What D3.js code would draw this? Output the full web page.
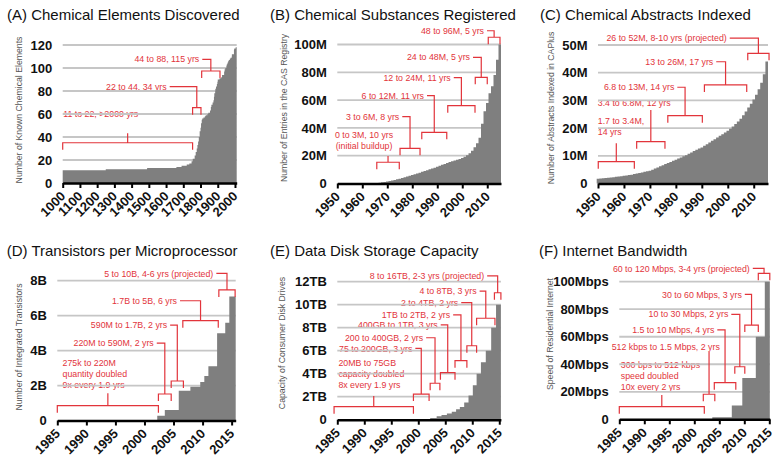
<!DOCTYPE html>
<html><head><meta charset="utf-8">
<script src="https://cdn.jsdelivr.net/npm/d3@7"></script>
<style>body{margin:0;background:#fff}svg{display:block;font-family:"Liberation Sans",Arial,sans-serif}</style>
</head><body><svg id="c" width="779" height="465"></svg>
<script>
// ---------------- DATA ----------------
// (A) elements known: step start years and counts
const elementStepYears = [1000,1250,1490,1660,1690,1720,1735,1748,1755,1766,1772,1778,1782,1786,1790,1795,1800,1803,1807,1810,1817,1825,1830,1840,1845,1855,1860,1863,1870,1875,1878,1880,1885,1886,1890,1895,1898,1900,1910,1920,1925,1937,1940,1944,1950,1952,1955,1958,1961,1964,1970,1974,1981,1982,1994,1996,2004];
const elementCounts    = [11,12,13,14,15,16,17,19,21,24,27,30,33,36,40,45,48,52,55,56,57,58,59,60,61,63,66,68,70,72,75,78,80,82,84,86,88,90,91,92,94,97,99,100,102,103,104,105,106,107,108,109,110,112,116,117,118];
const elementEndYear = 2010;

// (B) CAS registry entries (millions), yearly 1950..2015
const casFirstYear = 1950;
const casRegistryM = [0,0,0,0,0,0,0,0,0,0,0,0,0,0,0,
  0.2,0.4,0.6,0.9,1.1,1.4,1.8,2.2,2.6,3.0,3.5,4.0,4.5,5.0,5.6,
  6.2,6.7,7.2,7.8,8.4,9.0,9.6,10.2,10.8,11.4,12.0,12.7,13.4,14.1,14.8,
  15.4,16.0,16.5,17.0,17.6,18.3,19.2,20.3,21.8,23.5,26,29,33,43,52,
  58,65,70,78,89,100];

// (C) CAplus abstracts (millions), yearly 1950..2015
const capFirstYear = 1950;
const capAbstractsM = [1.7,1.8,1.9,2.0,2.1,2.2,2.3,2.4,2.5,2.6,2.8,2.9,3.1,3.2,3.4,
  3.6,3.8,4.0,4.2,4.4,4.6,5.0,5.4,5.8,6.2,6.6,7.0,7.4,7.8,8.2,
  8.6,9.0,9.4,9.8,10.2,10.7,11.2,11.7,12.2,12.6,13.0,13.6,14.2,14.8,15.4,
  16.0,16.6,17.2,17.8,18.4,19.0,19.8,20.6,21.5,22.4,23.4,24.6,26.0,27.4,28.8,
  30.3,32.0,34.0,36.4,39.4,44.0];

// (D) transistors per microprocessor (billions): step start years, values
const cpuStepYears = [2002.2,2003.5,2005.9,2007.9,2009.6,2010.3,2011.0,2012.5,2013.9,2014.6];
const cpuTransistorsB = [0.27,0.6,1.7,1.93,2.2,2.55,3.1,5.0,5.6,7.1];
const cpuEndYear = 2015.7;

// (E) consumer disk capacity (TB)
const diskStepYears = [2002.2,2003.4,2004.3,2005.3,2006.2,2007.0,2007.7,2008.5,2009.3,2010.1,2010.8,2011.6,2012.5,2013.5,2014.4];
const diskCapacityTB = [0.15,0.3,0.4,0.55,0.7,0.9,1.1,1.5,2.1,3.0,4.0,5.0,6.0,8.0,10.0];
const diskEndYear = 2015.3;

// (F) residential internet speed (Mbps)
const netStepYears = [2003.6,2007.5,2009.6,2012.3,2014.1];
const netSpeedMbps = [1.5,10,30,60,100];
const netEndYear = 2015.1;

// tick values
const ticksA_x = [1000,1100,1200,1300,1400,1500,1600,1700,1800,1900,2000];
const ticksA_y = [0,20,40,60,80,100,120];
const ticksBC_x = [1950,1960,1970,1980,1990,2000,2010];
const ticksB_y = [0,20,40,60,80,100];
const ticksC_y = [0,10,20,30,40,50];
const ticksDEF_x = [1985,1990,1995,2000,2005,2010,2015];
const ticksD_y = [0,2,4,6,8];
const ticksE_y = [0,2,4,6,8,10,12];
const ticksF_y = [0,20,40,60,80,100];

// annotations (data units): text, bracket range, bracket level
const notesA = [
  {lines:["11 to 22, >2000 yrs"], anchor:"start", tx:1003, ty:57.2, x1:1000, x2:1754, by:35.0, stem:43.2},
  {lines:["22 to 44, 34 yrs"], anchor:"end", tx:1603.6, ty:81.0, x1:1754, x2:1802.6, by:65.5},
  {lines:["44 to 88, 115 yrs"], anchor:"end", tx:1792.8, ty:104.8, x1:1806.7, x2:1913, by:97.4}
];
const notesB = [
  {lines:["0 to 3M, 10 yrs","(initial buildup)"], anchor:"middle", tx:1960.7, ty:32.6, x1:1965.8, x2:1974.8, by:15.3, stem:19.8},
  {lines:["3 to 6M, 8 yrs"], anchor:"end", tx:1974.8, ty:45.8, x1:1975.1, x2:1983.1, by:25.3},
  {lines:["6 to 12M, 11 yrs"], anchor:"end", tx:1984.7, ty:60.9, x1:1983.8, x2:1993.8, by:36.8},
  {lines:["12 to 24M, 11 yrs"], anchor:"end", tx:1995.4, ty:73.8, x1:1994.2, x2:2005.1, by:56.0},
  {lines:["24 to 48M, 5 yrs"], anchor:"end", tx:2003.1, ty:88.5, x1:2005.2, x2:2010.0, by:76.4},
  {lines:["48 to 96M, 5 yrs"], anchor:"end", tx:2008.7, ty:107.6, x1:2010.4, x2:2015.1, by:105.2}
];
const notesC = [
  {lines:["1.7 to 3.4M,","14 yrs"], anchor:"start", tx:1949.9, ty:21.5, x1:1950.1, x2:1964.0, by:7.87, stem:14.5},
  {lines:["3.4 to 6.8M, 12 yrs"], anchor:"start", tx:1949.9, ty:27.8, x1:1964.9, x2:1975.8, by:15.1, stem:26.5},
  {lines:["6.8 to 13M, 14 yrs"], anchor:"end", tx:1979.4, ty:33.6, x1:1976.9, x2:1990.2, by:24.5},
  {lines:["13 to 26M, 17 yrs"], anchor:"end", tx:1994.4, ty:42.8, x1:1991.0, x2:2007.3, by:35.6},
  {lines:["26 to 52M, 8-10 yrs (projected)"], anchor:"end", tx:1999.6, ty:51.3, x1:2007.7, x2:2015.9, by:47.0}
];
const notesD = [
  {lines:["275k to 220M","quantity doubled","9x every 1.9 yrs"], anchor:"start", tx:1985.9, ty:3.125, x1:1985, x2:2002.4, by:0.847, stem:1.557},
  {lines:["220M to 590M, 2 yrs"], anchor:"end", tx:2001.6, ty:4.24, x1:2002.4, x2:2004.6, by:1.517},
  {lines:["590M to 1.7B, 2 yrs"], anchor:"end", tx:2003.9, ty:5.28, x1:2004.6, x2:2006.7, by:2.26},
  {lines:["1.7B to 5B, 6 yrs"], anchor:"end", tx:2005.6, ty:6.67, x1:2006.6, x2:2012.7, by:5.71},
  {lines:["5 to 10B, 4-6 yrs (projected)"], anchor:"end", tx:2011.85, ty:8.24, x1:2012.8, x2:2015.6, by:7.47}
];
const notesE = [
  {lines:["20MB to 75GB","capacity doubled","8x every 1.9 yrs"], anchor:"start", tx:1985.2, ty:4.68, x1:1984.4, x2:1999.1, by:1.13, stem:2.06},
  {lines:["75 to 200GB, 3 yrs"], anchor:"end", tx:1998.9, ty:5.93, x1:1999.1, x2:2002.0, by:2.23},
  {lines:["200 to 400GB, 2 yrs"], anchor:"end", tx:2000.9, ty:6.85, x1:2002.2, x2:2004.0, by:3.17},
  {lines:["400GB to 1TB, 3 yrs"], anchor:"end", tx:2003.6, ty:7.96, x1:2004.1, x2:2006.8, by:4.09},
  {lines:["1TB to 2TB, 2 yrs"], anchor:"end", tx:2005.9, ty:8.83, x1:2006.8, x2:2009.0, by:5.13},
  {lines:["2 to 4TB, 2 yrs"], anchor:"end", tx:2007.4, ty:9.9, x1:2009.0, x2:2010.8, by:6.43},
  {lines:["4 to 8TB, 3 yrs"], anchor:"end", tx:2010.8, ty:10.91, x1:2010.8, x2:2014.2, by:8.82},
  {lines:["8 to 16TB, 2-3 yrs (projected)"], anchor:"end", tx:2012.2, ty:12.22, x1:2014.1, x2:2015.3, by:11.04}
];
const notesF = [
  {lines:["300 bps to 512 kbps","speed doubled","10x every 2 yrs"], anchor:"start", tx:1985.3, ty:37.6, x1:1985, x2:2002, by:9.16, stem:17.7},
  {lines:["512 kbps to 1.5 Mbps, 2 yrs"], anchor:"end", tx:2005.1, ty:50.4, x1:2001.8, x2:2004.1, by:18.2, stem:48.9},
  {lines:["1.5 to 10 Mbps, 4 yrs"], anchor:"end", tx:2004.0, ty:62.6, x1:2004, x2:2008.3, by:26.6},
  {lines:["10 to 30 Mbps, 2 yrs"], anchor:"end", tx:2006.8, ty:74.0, x1:2008.1, x2:2010.1, by:38.2},
  {lines:["30 to 60 Mbps, 3 yrs"], anchor:"end", tx:2009.5, ty:88.5, x1:2010.1, x2:2012.8, by:68.5},
  {lines:["60 to 120 Mbps, 3-4 yrs (projected)"], anchor:"end", tx:2011.1, ty:107.4, x1:2012.8, x2:2015.1, by:106.1}
];

// ---------------- HELPERS ----------------
function stepPoints(years, vals, endYear){
  const pts = years.map((yr,i)=>[yr, vals[i]]);
  pts.push([endYear, vals[vals.length-1]]);
  return pts;
}
function yearlyPoints(first, vals){
  const pts = vals.map((v,i)=>[first+i-0.5, v]);
  pts.push([first+vals.length-0.5, vals[vals.length-1]]);
  return pts;
}

const RED = "#e2343b", GRAY = "#7f7f7f", GRID = "#c6c6c6";
const svg = d3.select("#c");

function drawPanel(p){
  const x = d3.scaleLinear().domain(p.xDomain).range(p.xRange);
  const y = d3.scaleLinear().domain(p.yDomain).range(p.yRange);
  const g = svg.append("g");

  g.append("text").attr("x", p.titlePos[0]).attr("y", p.titlePos[1])
    .attr("font-size", 15).attr("fill", "#111").text(p.title);

  g.append("text").attr("transform", `translate(${p.yTitlePos[0]},${p.yTitlePos[1]}) rotate(-90)`)
    .attr("text-anchor", "middle").attr("font-size", 8.7).attr("fill", "#555").text(p.yTitle);

  // annotation texts (under gridlines)
  p.notes.forEach(n=>{
    const tx = x(n.tx), ty = y(n.ty);
    const t = g.append("text").attr("x", tx).attr("y", ty)
      .attr("text-anchor", n.anchor).attr("fill", RED).attr("font-size", 8.8);
    n.lines.forEach((l,i)=> t.append("tspan").attr("x", tx).attr("dy", i ? 11 : 0).text(l));
  });

  // gridlines
  g.append("g").selectAll("line").data(p.yTicks.filter(v=>v>0)).join("line")
    .attr("x1", x(p.xDomain[0])).attr("x2", x(p.xDomain[1]))
    .attr("y1", d=>y(d)).attr("y2", d=>y(d))
    .attr("stroke", GRID).attr("stroke-width", 1.8);

  // filled step area
  const area = d3.area().curve(d3.curveStepAfter)
    .x(d=>x(d[0])).y0(y(0)).y1(d=>y(d[1]));
  g.append("path").datum(p.points).attr("d", area).attr("fill", GRAY);

  // x axis
  const xa = d3.axisBottom(x).tickValues(p.xTicks).tickFormat(d3.format("d"))
    .tickSize(5).tickSizeOuter(0);
  const gx = g.append("g").attr("transform", `translate(0,${y(0)})`).call(xa);
  gx.select(".domain").attr("stroke", "#000").attr("stroke-width", 2.6);
  gx.selectAll(".tick line").attr("stroke", "#000").attr("stroke-width", 2);
  gx.selectAll(".tick text").attr("font-size", 13).attr("font-weight", "bold").attr("fill", "#111")
    .attr("font-family", '"Liberation Sans",Arial,sans-serif')
    .attr("text-anchor", "end").attr("x", 0).attr("y", 0).attr("dy", 0)
    .attr("transform", "translate(3,14) rotate(-45)");

  // y axis labels
  const ya = d3.axisLeft(y).tickValues(p.yTicks).tickFormat(p.yFmt).tickSize(0).tickPadding(10.5);
  const gy = g.append("g").attr("transform", `translate(${x(p.xDomain[0])},0)`).call(ya);
  gy.select(".domain").remove();
  gy.selectAll(".tick text").attr("font-size", 13).attr("font-weight", "bold").attr("fill", "#111")
    .attr("font-family", '"Liberation Sans",Arial,sans-serif');

  // brackets and leaders
  p.notes.forEach(n=>{
    const bx1 = x(n.x1), bx2 = x(n.x2), by = y(n.by), cx = (bx1+bx2)/2;
    let d = `M${bx1},${by+7}V${by}H${bx2}V${by+7}`;
    if (n.stem !== undefined) {
      d += `M${cx},${by}V${y(n.stem)}`;
    } else {
      const ly = y(n.ty) - 3.2;
      d += `M${x(n.tx)+3},${ly}H${cx}V${by}`;
    }
    g.append("path").attr("d", d).attr("fill", "none").attr("stroke", RED).attr("stroke-width", 1.2);
  });
}

const panels = [
  {title:"(A) Chemical Elements Discovered", titlePos:[7,19.5],
   yTitle:"Number of Known Chemical Elements", yTitlePos:[22.3,110],
   xDomain:[1000, elementEndYear], xRange:[62.7,236.7], yDomain:[0,120], yRange:[183,45],
   xTicks:ticksA_x, yTicks:ticksA_y, yFmt:d=>String(d),
   points:stepPoints(elementStepYears, elementCounts, elementEndYear), notes:notesA},
  {title:"(B) Chemical Substances Registered", titlePos:[270,19.5],
   yTitle:"Number of Entries in the CAS Registry", yTitlePos:[287.3,108],
   xDomain:[1950, 2015.5], xRange:[337.3,501], yDomain:[0,100], yRange:[183.5,44.5],
   xTicks:ticksBC_x, yTicks:ticksB_y, yFmt:d=>d? d+"M":"0",
   points:yearlyPoints(casFirstYear, casRegistryM), notes:notesB},
  {title:"(C) Chemical Abstracts Indexed", titlePos:[540,19.5],
   yTitle:"Number of Abstracts Indexed in CAPlus", yTitlePos:[554.3,108],
   xDomain:[1950, 2015.5], xRange:[598,768], yDomain:[0,50], yRange:[183.5,45],
   xTicks:ticksBC_x, yTicks:ticksC_y, yFmt:d=>d? d+"M":"0",
   points:yearlyPoints(capFirstYear, capAbstractsM), notes:notesC},
  {title:"(D) Transistors per Microprocessor", titlePos:[6.7,256],
   yTitle:"Number of Integrated Transistors", yTitlePos:[22.3,347],
   xDomain:[1985, cpuEndYear], xRange:[57.3,235.7], yDomain:[0,8], yRange:[420.5,280.7],
   xTicks:ticksDEF_x, yTicks:ticksD_y, yFmt:d=>d? d+"B":"0",
   points:stepPoints(cpuStepYears, cpuTransistorsB, cpuEndYear), notes:notesD},
  {title:"(E) Data Disk Storage Capacity", titlePos:[270,256],
   yTitle:"Capacity of Consumer Disk Drives", yTitlePos:[285,343],
   xDomain:[1985, diskEndYear], xRange:[337.3,500.9], yDomain:[0,12], yRange:[419.7,281.7],
   xTicks:ticksDEF_x, yTicks:ticksE_y, yFmt:d=>d? d+"TB":"0",
   points:stepPoints(diskStepYears, diskCapacityTB, diskEndYear), notes:notesE},
  {title:"(F) Internet Bandwidth", titlePos:[539,256],
   yTitle:"Speed of Residential Internet", yTitlePos:[553.3,334],
   xDomain:[1985, netEndYear], xRange:[619.3,769.8], yDomain:[0,100], yRange:[419.3,281.7],
   xTicks:ticksDEF_x, yTicks:ticksF_y, yFmt:d=>d? d+"Mbps":"0",
   points:stepPoints(netStepYears, netSpeedMbps, netEndYear), notes:notesF}
];
panels.forEach(drawPanel);
</script></body></html>
